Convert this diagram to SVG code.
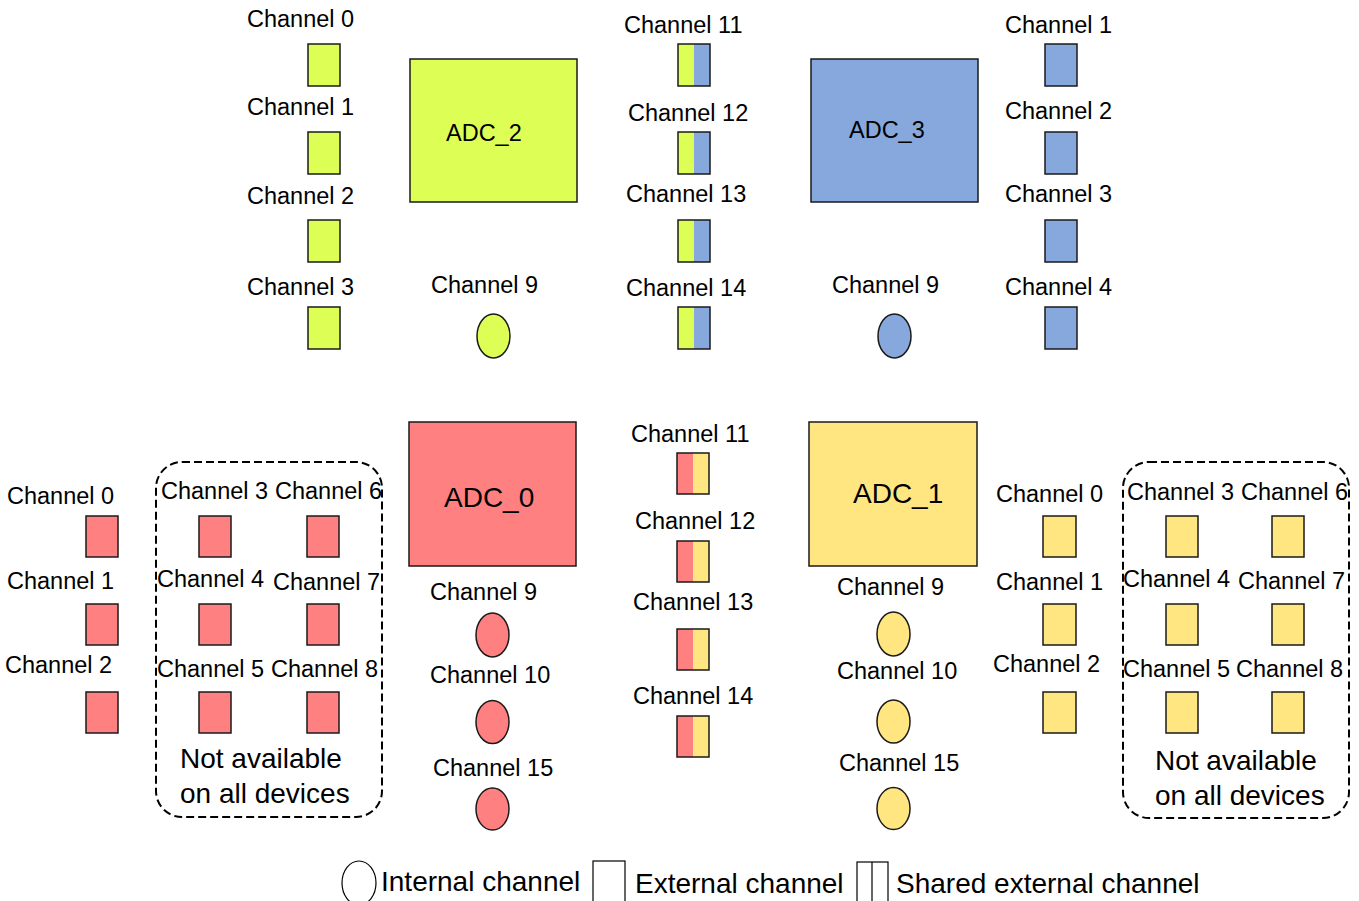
<svg xmlns="http://www.w3.org/2000/svg" width="1359" height="901" viewBox="0 0 1359 901">
<style>
text{font-family:"Liberation Sans",Arial,Helvetica,sans-serif;fill:#000}
.l{font-size:23.5px}
.big{font-size:28px}
.s{stroke:#1a1a1a;stroke-width:1.5}
.g{fill:#DDFF55}
.b{fill:#86A8DD}
.r{fill:#FF8080}
.y{fill:#FFE680}
.dash{fill:none;stroke:#000;stroke-width:2;stroke-dasharray:8 4}
.w{fill:#fff;stroke:#000;stroke-width:1.2}
</style>
<g id="connectors"></g>

<!-- ADC_2 group (top-left) -->
<g id="adc2">
<rect class="s g" x="410" y="59" width="167" height="143"/>
<text class="l" x="446" y="141">ADC_2</text>
</g>
<g id="adc2-ch0"><text class="l" x="247" y="27">Channel 0</text><rect class="s g" x="308" y="44" width="32" height="42"/></g>
<g id="adc2-ch1"><text class="l" x="247" y="115">Channel 1</text><rect class="s g" x="308" y="132" width="32" height="42"/></g>
<g id="adc2-ch2"><text class="l" x="247" y="204">Channel 2</text><rect class="s g" x="308" y="220" width="32" height="42"/></g>
<g id="adc2-ch3"><text class="l" x="247" y="295">Channel 3</text><rect class="s g" x="308" y="307" width="32" height="42"/></g>
<g id="adc2-ch9"><text class="l" x="431" y="293">Channel 9</text><ellipse class="s g" cx="493.5" cy="336" rx="16.5" ry="22"/></g>

<!-- shared top -->
<g id="top-ch11"><text class="l" x="624" y="33">Channel 11</text><rect class="g" x="678" y="44" width="16" height="42"/><rect class="b" x="694" y="44" width="16" height="42"/><rect class="s" fill="none" x="678" y="44" width="32" height="42"/></g>
<g id="top-ch12"><text class="l" x="628" y="121">Channel 12</text><rect class="g" x="678" y="132" width="16" height="42"/><rect class="b" x="694" y="132" width="16" height="42"/><rect class="s" fill="none" x="678" y="132" width="32" height="42"/></g>
<g id="top-ch13"><text class="l" x="626" y="202">Channel 13</text><rect class="g" x="678" y="220" width="16" height="42"/><rect class="b" x="694" y="220" width="16" height="42"/><rect class="s" fill="none" x="678" y="220" width="32" height="42"/></g>
<g id="top-ch14"><text class="l" x="626" y="296">Channel 14</text><rect class="g" x="678" y="307" width="16" height="42"/><rect class="b" x="694" y="307" width="16" height="42"/><rect class="s" fill="none" x="678" y="307" width="32" height="42"/></g>

<!-- ADC_3 -->
<g id="adc3">
<rect class="s b" x="811" y="59" width="167" height="143"/>
<text class="l" x="849" y="138">ADC_3</text>
</g>
<g id="adc3-ch9"><text class="l" x="832" y="293">Channel 9</text><ellipse class="s b" cx="894.5" cy="336" rx="16.5" ry="22"/></g>
<g id="adc3-ch1"><text class="l" x="1005" y="33">Channel 1</text><rect class="s b" x="1045" y="44" width="32" height="42"/></g>
<g id="adc3-ch2"><text class="l" x="1005" y="119">Channel 2</text><rect class="s b" x="1045" y="132" width="32" height="42"/></g>
<g id="adc3-ch3"><text class="l" x="1005" y="202">Channel 3</text><rect class="s b" x="1045" y="220" width="32" height="42"/></g>
<g id="adc3-ch4"><text class="l" x="1005" y="295">Channel 4</text><rect class="s b" x="1045" y="307" width="32" height="42"/></g>

<!-- ADC_0 -->
<g id="adc0">
<rect class="s r" x="409" y="422" width="167" height="144"/>
<text class="big" x="444" y="507">ADC_0</text>
</g>
<g id="adc0-ch0"><text class="l" x="7" y="504">Channel 0</text><rect class="s r" x="86" y="516" width="32" height="41"/></g>
<g id="adc0-ch1"><text class="l" x="7" y="589">Channel 1</text><rect class="s r" x="86" y="604" width="32" height="41"/></g>
<g id="adc0-ch2"><text class="l" x="5" y="673">Channel 2</text><rect class="s r" x="86" y="692" width="32" height="41"/></g>
<g id="adc0-na">
<rect class="dash" x="156" y="462" width="226" height="355" rx="26" ry="26"/>
<text class="big" x="180" y="768">Not available</text>
<text class="big" x="180" y="803">on all devices</text>
</g>
<g id="adc0-ch3"><text class="l" x="161" y="499">Channel 3</text><rect class="s r" x="199" y="516" width="32" height="41"/></g>
<g id="adc0-ch6"><text class="l" x="275" y="499">Channel 6</text><rect class="s r" x="307" y="516" width="32" height="41"/></g>
<g id="adc0-ch4"><text class="l" x="157" y="587">Channel 4</text><rect class="s r" x="199" y="604" width="32" height="41"/></g>
<g id="adc0-ch7"><text class="l" x="273" y="590">Channel 7</text><rect class="s r" x="307" y="604" width="32" height="41"/></g>
<g id="adc0-ch5"><text class="l" x="157" y="677">Channel 5</text><rect class="s r" x="199" y="692" width="32" height="41"/></g>
<g id="adc0-ch8"><text class="l" x="271" y="677">Channel 8</text><rect class="s r" x="307" y="692" width="32" height="41"/></g>
<g id="adc0-ch9"><text class="l" x="430" y="600">Channel 9</text><ellipse class="s r" cx="492.5" cy="635" rx="16.5" ry="22"/></g>
<g id="adc0-ch10"><text class="l" x="430" y="683">Channel 10</text><ellipse class="s r" cx="492.5" cy="722" rx="16.5" ry="21.5"/></g>
<g id="adc0-ch15"><text class="l" x="433" y="776">Channel 15</text><ellipse class="s r" cx="492.5" cy="809" rx="16.5" ry="21"/></g>

<!-- shared bottom -->
<g id="bot-ch11"><text class="l" x="631" y="442">Channel 11</text><rect class="r" x="677" y="453" width="16" height="41"/><rect class="y" x="693" y="453" width="16" height="41"/><rect class="s" fill="none" x="677" y="453" width="32" height="41"/></g>
<g id="bot-ch12"><text class="l" x="635" y="529">Channel 12</text><rect class="r" x="677" y="541" width="16" height="41"/><rect class="y" x="693" y="541" width="16" height="41"/><rect class="s" fill="none" x="677" y="541" width="32" height="41"/></g>
<g id="bot-ch13"><text class="l" x="633" y="610">Channel 13</text><rect class="r" x="677" y="629" width="16" height="41"/><rect class="y" x="693" y="629" width="16" height="41"/><rect class="s" fill="none" x="677" y="629" width="32" height="41"/></g>
<g id="bot-ch14"><text class="l" x="633" y="704">Channel 14</text><rect class="r" x="677" y="716" width="16" height="41"/><rect class="y" x="693" y="716" width="16" height="41"/><rect class="s" fill="none" x="677" y="716" width="32" height="41"/></g>

<!-- ADC_1 -->
<g id="adc1">
<rect class="s y" x="809" y="422" width="168" height="144"/>
<text class="big" x="853" y="503">ADC_1</text>
</g>
<g id="adc1-ch9"><text class="l" x="837" y="595">Channel 9</text><ellipse class="s y" cx="893.5" cy="634" rx="16.5" ry="22"/></g>
<g id="adc1-ch10"><text class="l" x="837" y="679">Channel 10</text><ellipse class="s y" cx="893.5" cy="721.5" rx="16.5" ry="21.5"/></g>
<g id="adc1-ch15"><text class="l" x="839" y="771">Channel 15</text><ellipse class="s y" cx="893.5" cy="808.5" rx="16.5" ry="21"/></g>
<g id="adc1-ch0"><text class="l" x="996" y="502">Channel 0</text><rect class="s y" x="1043" y="516" width="33" height="41"/></g>
<g id="adc1-ch1"><text class="l" x="996" y="590">Channel 1</text><rect class="s y" x="1043" y="604" width="33" height="41"/></g>
<g id="adc1-ch2"><text class="l" x="993" y="672">Channel 2</text><rect class="s y" x="1043" y="692" width="33" height="41"/></g>
<g id="adc1-na">
<rect class="dash" x="1123" y="462" width="226" height="356" rx="26" ry="26"/>
<text class="big" x="1155" y="770">Not available</text>
<text class="big" x="1155" y="805">on all devices</text>
</g>
<g id="adc1-ch3"><text class="l" x="1127" y="500">Channel 3</text><rect class="s y" x="1166" y="516" width="32" height="41"/></g>
<g id="adc1-ch6"><text class="l" x="1241" y="500">Channel 6</text><rect class="s y" x="1272" y="516" width="32" height="41"/></g>
<g id="adc1-ch4"><text class="l" x="1123" y="587">Channel 4</text><rect class="s y" x="1166" y="604" width="32" height="41"/></g>
<g id="adc1-ch7"><text class="l" x="1238" y="589">Channel 7</text><rect class="s y" x="1272" y="604" width="32" height="41"/></g>
<g id="adc1-ch5"><text class="l" x="1123" y="677">Channel 5</text><rect class="s y" x="1166" y="692" width="32" height="41"/></g>
<g id="adc1-ch8"><text class="l" x="1236" y="677">Channel 8</text><rect class="s y" x="1272" y="692" width="32" height="41"/></g>

<!-- legend -->
<g id="legend">
<ellipse class="w" cx="359" cy="883" rx="17" ry="22"/>
<text class="big" x="381" y="891">Internal channel</text>
<rect class="w" x="593" y="861" width="32" height="42"/>
<text class="big" x="635" y="893">External channel</text>
<rect class="w" x="857" y="862" width="31" height="42"/>
<line x1="872" y1="862" x2="872" y2="904" stroke="#000" stroke-width="1.2"/>
<text class="big" x="896" y="893">Shared external channel</text>
</g>
</svg>
